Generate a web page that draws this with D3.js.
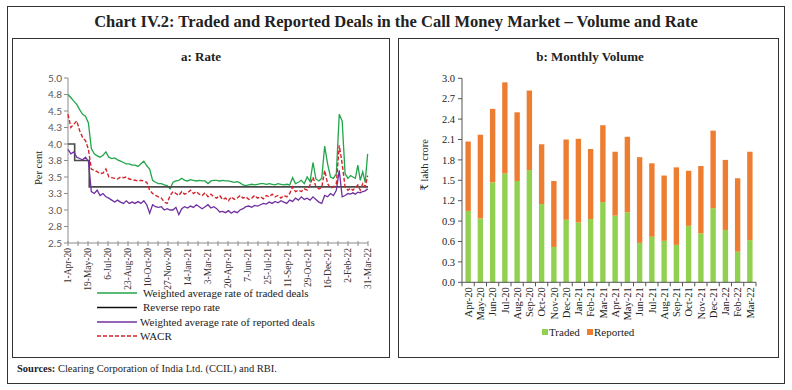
<!DOCTYPE html>
<html><head><meta charset="utf-8">
<script src="https://cdn.jsdelivr.net/npm/d3@7"></script>
<style>
html,body{margin:0;padding:0;background:#fff;}
svg{display:block;}
text{font-family:"Liberation Serif","DejaVu Serif",serif;fill:#222;}
</style></head>
<body>
<svg id="c" width="792" height="390"></svg>
<script>
// ---------------- DATA ----------------
const chartTitle = "Chart IV.2: Traded and Reported Deals in the Call Money Market – Volume and Rate";
const rateTitle = "a: Rate";
const volTitle = "b: Monthly Volume";

// Panel a: x tick labels (dates) and y ticks
const rateTickLabels = ["1-Apr-20","19-May-20","6-Jul-20","23-Aug-20","10-Oct-20","27-Nov-20","14-Jan-21","3-Mar-21","20-Apr-21","7-Jun-21","25-Jul-21","11-Sep-21","29-Oct-21","16-Dec-21","2-Feb-22","31-Mar-22"];
const rateYTickValues = [2.5,2.75,3.0,3.25,3.5,3.75,4.0,4.25,4.5,4.75,5.0];
const rateYTickLabels = ["2.5","2.8","3.0","3.3","3.5","3.8","4.0","4.3","4.5","4.8","5.0"];
const rateStart = "2020-04-01"; // weekly observations from this date

// Weekly readings (per cent)
const tradedRate = [4.75,4.70,4.65,4.60,4.52,4.45,4.42,4.32,3.93,3.85,3.82,3.80,3.83,3.88,3.80,3.78,3.79,3.76,3.74,3.72,3.70,3.70,3.68,3.68,3.66,3.70,3.74,3.67,3.62,3.45,3.42,3.40,3.40,3.38,3.37,3.32,3.42,3.44,3.45,3.48,3.45,3.44,3.46,3.45,3.44,3.45,3.44,3.44,3.40,3.44,3.45,3.45,3.44,3.45,3.44,3.44,3.43,3.42,3.43,3.41,3.38,3.37,3.38,3.39,3.38,3.39,3.40,3.40,3.39,3.40,3.39,3.38,3.40,3.39,3.38,3.39,3.38,3.49,3.40,3.42,3.45,3.40,3.50,3.43,3.72,3.47,3.44,3.48,3.97,3.70,3.50,3.48,3.55,4.45,4.35,3.55,3.48,3.52,3.50,3.48,3.68,3.45,3.58,3.42,3.85];
const reportedRate = [3.92,3.85,3.88,3.80,3.78,3.76,3.80,3.74,3.28,3.25,3.30,3.22,3.25,3.20,3.18,3.15,3.12,3.15,3.12,3.10,3.14,3.10,3.12,3.10,3.13,3.10,3.14,3.08,2.95,3.08,3.05,3.04,3.05,3.00,3.02,3.00,3.00,3.04,2.93,3.02,3.05,3.03,3.06,3.04,3.08,3.05,3.02,3.05,3.08,3.03,3.05,3.02,2.97,2.98,2.96,2.99,2.95,2.98,2.96,3.00,3.02,3.05,3.06,3.04,3.07,3.06,3.08,3.10,3.09,3.12,3.10,3.13,3.11,3.14,3.12,3.10,3.15,3.13,3.18,3.15,3.20,3.16,3.18,3.15,3.20,3.16,3.12,3.10,3.22,3.20,3.25,3.22,3.30,3.60,3.20,3.22,3.25,3.24,3.26,3.24,3.27,3.26,3.28,3.29,3.32];
const wacr = [4.45,4.25,4.30,4.35,4.20,4.10,4.05,3.92,3.62,3.60,3.58,3.55,3.56,3.62,3.50,3.49,3.48,3.47,3.50,3.49,3.50,3.47,3.46,3.45,3.44,3.45,3.44,3.42,3.30,3.25,3.22,3.20,3.18,3.12,3.10,3.22,3.28,3.25,3.22,3.28,3.24,3.26,3.30,3.25,3.28,3.24,3.22,3.26,3.20,3.24,3.20,3.18,3.22,3.16,3.18,3.14,3.20,3.16,3.18,3.22,3.18,3.20,3.16,3.18,3.22,3.18,3.20,3.17,3.22,3.20,3.24,3.20,3.22,3.18,3.22,3.20,3.25,3.35,3.28,3.30,3.28,3.32,3.30,3.38,3.50,3.35,3.32,3.34,3.60,3.40,3.33,3.35,3.40,3.98,3.70,3.35,3.30,3.33,3.30,3.34,3.38,3.30,3.40,3.35,3.52];
// Reverse repo rate change dates and levels
const repoDates = ["2020-04-01","2020-04-17","2020-05-22","2022-03-31"];
const repoRate = [4.00,3.75,3.35,3.35];

const rateSeriesNames = ["Weighted average rate of traded deals","Reverse repo rate","Weighted average rate of reported deals","WACR"];

// Panel b: monthly volumes (₹ lakh crore)
const months = ["Apr-20","May-20","Jun-20","Jul-20","Aug-20","Sep-20","Oct-20","Nov-20","Dec-20","Jan-21","Feb-21","Mar-21","Apr-21","May-21","Jun-21","Jul-21","Aug-21","Sep-21","Oct-21","Nov-21","Dec-21","Jan-22","Feb-22","Mar-22"];
const traded   = [1.05,0.94,1.47,1.60,1.49,1.65,1.15,0.52,0.92,0.88,0.93,1.18,0.98,1.03,0.58,0.67,0.61,0.55,0.83,0.72,1.09,0.77,0.45,0.62];
const reported = [1.02,1.23,1.08,1.34,1.01,1.17,0.88,0.97,1.18,1.23,1.03,1.13,0.94,1.11,1.26,1.08,0.96,1.14,0.81,0.99,1.14,1.03,1.08,1.30];
const volYTicks = [0,0.3,0.6,0.9,1.2,1.5,1.8,2.1,2.4,2.7,3.0];
const volSeriesNames = ["Traded","Reported"];
const sourceNote = "Clearing Corporation of India Ltd. (CCIL) and RBI.";

// ---------------- DRAW ----------------
const svg = d3.select("#c");
svg.append("rect").attr("width",792).attr("height",390).attr("fill","#fff");
// borders
svg.append("rect").attr("x",7.5).attr("y",6.5).attr("width",777).attr("height",377).attr("fill","none").attr("stroke","#333").attr("stroke-width",1);
svg.append("rect").attr("x",12.5).attr("y",38.5).attr("width",377).attr("height",319).attr("fill","none").attr("stroke","#333").attr("stroke-width",1);
svg.append("rect").attr("x",398.5).attr("y",38.5).attr("width",380).attr("height",319).attr("fill","none").attr("stroke","#333").attr("stroke-width",1);

svg.append("text").attr("x",396).attr("y",27).attr("text-anchor","middle")
  .style("font-size","16.5px").style("font-weight","bold").text(chartTitle);
svg.append("text").attr("x",201).attr("y",61).attr("text-anchor","middle")
  .style("font-size","13px").style("font-weight","bold").text(rateTitle);
svg.append("text").attr("x",590).attr("y",61).attr("text-anchor","middle")
  .style("font-size","13px").style("font-weight","bold").text(volTitle);

// ---- Panel a ----
const parse = d3.utcParse("%d-%b-%y");
const parseISO = d3.utcParse("%Y-%m-%d");
const tickDates = rateTickLabels.map(parse);
const ax0 = 68, ax1 = 368, ay0 = 243, ay1 = 78;
const xR = d3.scaleUtc().domain(tickDates)
  .range(tickDates.map((d,k)=> ax0 + k*(ax1-ax0)/(tickDates.length-1)));
const yR = d3.scaleLinear().domain([2.5,5]).range([ay0,ay1]);
const start = parseISO(rateStart);
const weekDate = i => d3.utcDay.offset(start, 7*i);

const gA = svg.append("g");
// axes
const axisCol = "#8c8c8c";
gA.append("line").attr("x1",ax0).attr("x2",ax0).attr("y1",ay1).attr("y2",ay0).attr("stroke",axisCol);
gA.append("line").attr("x1",ax0).attr("x2",ax1).attr("y1",ay0).attr("y2",ay0).attr("stroke",axisCol);
rateYTickValues.forEach((v,k)=>{
  gA.append("line").attr("x1",ax0-4).attr("x2",ax0).attr("y1",yR(v)).attr("y2",yR(v)).attr("stroke",axisCol);
  gA.append("text").attr("x",ax0-6).attr("y",yR(v)).attr("dy","0.35em").attr("text-anchor","end")
    .style("font-family","Lato, 'Liberation Sans', sans-serif").style("font-size","10px").style("fill","#595959")
    .text(rateYTickLabels[k]);
});
tickDates.forEach((d,k)=>{
  const x = xR(d);
  gA.append("line").attr("x1",x).attr("x2",x).attr("y1",ay0-2).attr("y2",ay0+3).attr("stroke",axisCol);
  if (k < tickDates.length-1) {
    const xm = (x + xR(tickDates[k+1]))/2;
    gA.append("line").attr("x1",xm).attr("x2",xm).attr("y1",ay0-2).attr("y2",ay0+3).attr("stroke",axisCol);
  }
  gA.append("text").attr("transform",`translate(${x},${ay0+5}) rotate(-90)`)
    .attr("dy","0.35em").attr("text-anchor","end").style("font-size","9.5px").style("fill","#333").text(rateTickLabels[k]);
});
gA.append("text").attr("transform","translate(42,168) rotate(-90)").attr("text-anchor","middle")
  .style("font-size","10.5px").text("Per cent");

const lineW = d3.line().x((v,i)=>xR(weekDate(i))).y(v=>yR(v));
const cols = {traded:"#21a64b", repo:"#333333", reported:"#7030a0", wacr:"#d3262d"};
gA.append("path").attr("d",lineW(tradedRate)).attr("fill","none").attr("stroke",cols.traded).attr("stroke-width",1.3);
const repoLine = d3.line().curve(d3.curveStepAfter).x((v,i)=>xR(parseISO(repoDates[i]))).y(v=>yR(v));
gA.append("path").attr("d",repoLine(repoRate)).attr("fill","none").attr("stroke","#4a4a4a").attr("stroke-width",1.6);
gA.append("path").attr("d",lineW(reportedRate)).attr("fill","none").attr("stroke",cols.reported).attr("stroke-width",1.3);
gA.append("path").attr("d",lineW(wacr)).attr("fill","none").attr("stroke",cols.wacr).attr("stroke-width",1.4).attr("stroke-dasharray","4,2");

// legend a
const legY = [293, 307.5, 322, 336];
const legStyle = [
  {c:cols.traded, dash:null},
  {c:"#111", dash:null},
  {c:cols.reported, dash:null},
  {c:cols.wacr, dash:"4,2"}
];
rateSeriesNames.forEach((n,k)=>{
  const l = gA.append("line").attr("x1",97).attr("x2",137).attr("y1",legY[k]).attr("y2",legY[k])
    .attr("stroke",legStyle[k].c).attr("stroke-width",1.6);
  if (legStyle[k].dash) l.attr("stroke-dasharray",legStyle[k].dash);
  gA.append("text").attr("x", k<2 ? 143 : 140).attr("y",legY[k]).attr("dy","0.35em")
    .style("font-size","11px").text(n);
});

// ---- Panel b ----
const bx0 = 462, bx1 = 756, by0 = 282.3, by1 = 78.3;
const xB = d3.scaleBand().domain(months).range([bx0,bx1]).paddingInner(0.56).paddingOuter(0.28);
const yB = d3.scaleLinear().domain([0,3]).range([by0,by1]);
const gB = svg.append("g");
const colTraded = "#92d050", colRep = "#ed7d31";
months.forEach((m,i)=>{
  gB.append("rect").attr("x",xB(m)).attr("width",xB.bandwidth())
    .attr("y",yB(traded[i])).attr("height",yB(0)-yB(traded[i])).attr("fill",colTraded);
  gB.append("rect").attr("x",xB(m)).attr("width",xB.bandwidth())
    .attr("y",yB(traded[i]+reported[i])).attr("height",yB(traded[i])-yB(traded[i]+reported[i])).attr("fill",colRep);
});
const bAxisCol = "#555";
gB.append("line").attr("x1",bx0).attr("x2",bx0).attr("y1",by1).attr("y2",by0).attr("stroke",bAxisCol);
gB.append("line").attr("x1",bx0).attr("x2",bx1).attr("y1",by0).attr("y2",by0).attr("stroke",bAxisCol);
volYTicks.forEach(v=>{
  gB.append("line").attr("x1",bx0-4).attr("x2",bx0).attr("y1",yB(v)).attr("y2",yB(v)).attr("stroke",bAxisCol);
  gB.append("text").attr("x",bx0-7).attr("y",yB(v)).attr("dy","0.35em").attr("text-anchor","end")
    .style("font-size","10.5px").text(v.toFixed(1));
});
months.forEach((m,i)=>{
  const xb = bx0 + i*(bx1-bx0)/months.length;
  gB.append("line").attr("x1",xb).attr("x2",xb).attr("y1",by0).attr("y2",by0+4).attr("stroke",bAxisCol);
  const xc = xB(m) + xB.bandwidth()/2;
  gB.append("text").attr("transform",`translate(${xc},${by0+5}) rotate(-90)`)
    .attr("dy","0.35em").attr("text-anchor","end").style("font-size","10.5px").text(m);
});
gB.append("line").attr("x1",bx1).attr("x2",bx1).attr("y1",by0).attr("y2",by0+4).attr("stroke",bAxisCol);
gB.append("text").attr("transform","translate(428,165) rotate(-90)").attr("text-anchor","middle")
  .style("font-size","10.5px").text("₹ lakh crore");

// legend b
const legB = [{x:542, c:colTraded},{x:587, c:colRep}];
volSeriesNames.forEach((n,k)=>{
  gB.append("rect").attr("x",legB[k].x).attr("y",329).attr("width",6).attr("height",6).attr("fill",legB[k].c);
  gB.append("text").attr("x",legB[k].x+7).attr("y",332).attr("dy","0.35em").style("font-size","11px").text(n);
});

// sources
const src = svg.append("text").attr("x",17).attr("y",372).style("font-size","10.5px");
src.append("tspan").style("font-weight","bold").text("Sources:");
src.append("tspan").text(" " + sourceNote);
</script>
</body></html>
